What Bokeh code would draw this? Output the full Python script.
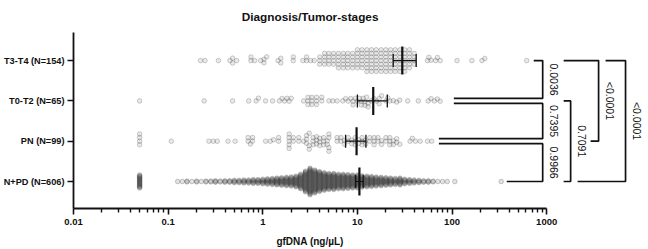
import math
from bokeh.plotting import figure
from bokeh.layouts import column
from bokeh.models import Range1d, FixedTicker, CustomJSTickFormatter, Label
from bokeh.embed import file_html
from bokeh.resources import INLINE
from bokeh.core.properties import value

# ---------------- data ----------------
categories = ["N+PD (N=606)", "PN (N=99)", "T0-T2 (N=65)", "T3-T4 (N=154)"]
title_text = "Diagnosis/Tumor-stages"
x_label = "gfDNA (ng/\u00b5L)"
x_ticks = [0.01, 0.1, 1, 10, 100, 1000]

t34_vals = [0.22, 0.245, 0.34, 0.45, 0.48, 0.53, 0.75, 0.82, 0.95, 1.03, 1.1, 1.45, 1.55,
            2.1, 2.65, 2.9, 3.2, 3.5,
            4.0, 4.5, 5.0, 5.6, 6.3, 7.1, 7.9, 8.9, 10.0, 11.2, 12.6, 14.1, 15.8, 17.8,
            20.0, 22.4, 25.1, 28.2, 31.6, 35.5, 39.8,
            55, 57, 60, 67, 70, 75, 113, 162, 207, 222, 615]
t34_counts = [1, 1, 1, 1, 2, 1, 2, 1, 1, 2, 1, 1, 2,
              2, 1, 2, 1, 1,
              3, 4, 4, 4, 5, 5, 5, 5, 6, 6, 7, 7, 7, 7,
              7, 7, 7, 7, 7, 6, 4,
              1, 1, 1, 1, 1, 1, 1, 1, 1, 1, 1]

t02_vals = [0.05, 0.24, 0.48, 0.71, 0.85, 0.9, 1.07, 1.27, 1.5, 1.6, 1.7, 1.8, 1.9, 2.0, 2.7,
            3.0, 3.3, 3.7, 4.2, 5.0, 5.5, 6.1, 7.0, 7.5, 8.0, 8.5, 9.0,
            9.5, 10, 10.5, 11, 11.5, 12, 12.5, 13, 14, 15, 16, 17,
            18, 20, 21, 22, 24, 26, 28, 34, 44, 56, 60, 65, 70, 75]
t02_counts = [1, 1, 1, 1, 1, 1, 1, 1, 1, 1, 1, 1, 1, 1, 1,
              3, 3, 3, 2, 1, 1, 1, 1, 1, 1, 1, 2,
              1, 1, 1, 2, 1, 2, 1, 2, 1, 1, 1, 2,
              1, 1, 1, 1, 1, 1, 1, 1, 1, 1, 1, 1, 1, 1]

pn_vals = [0.05, 0.108, 0.27, 0.3, 0.33, 0.43, 0.51, 0.70, 0.74, 0.78, 1.07, 1.2, 1.3, 1.47, 1.9,
           2.1, 2.4, 2.7, 2.9, 3.1, 3.4, 3.7, 4.0, 4.4, 4.8, 5.0, 6.1, 6.7, 7.3,
           8.0, 8.7, 9.5, 10.3, 11.2, 12.2, 13.5, 15, 16.5,
           18, 20, 22, 24, 26, 28, 36, 38, 41, 46, 55, 61]
pn_counts = [4, 1, 1, 1, 1, 1, 1, 2, 1, 2, 1, 1, 1, 2, 5,
             2, 2, 1, 3, 3, 3, 3, 3, 3, 2, 4, 2, 2, 2,
             2, 2, 3, 2, 3, 2, 2, 3, 2,
             2, 2, 3, 2, 2, 1, 1, 1, 1, 1, 1, 1]

nppd_vals = [0.05, 0.126, 0.141, 0.158, 0.178, 0.2, 0.224, 0.251, 0.282, 0.316, 0.355,
             0.398, 0.447, 0.501, 0.562, 0.631, 0.708, 0.794, 0.891,
             1.0, 1.12, 1.26, 1.41, 1.58, 1.78, 2.0, 2.24,
             2.51, 2.82, 3.16, 3.55, 3.98, 4.47,
             5.01, 5.62, 6.31, 7.08, 7.94, 8.91,
             10.0, 11.2, 12.6, 14.1, 15.8, 17.8,
             20.0, 22.4, 25.1, 28.2, 31.6, 35.5,
             39.8, 44.7, 50.1, 56.2,
             63.1, 70.8, 79.4, 89.1, 107, 331]
nppd_counts = [18, 1, 1, 2, 1, 2, 1, 2, 2, 3, 2,
               3, 3, 4, 4, 5, 5, 6, 6,
               7, 8, 9, 10, 11, 12, 13, 15,
               20, 28, 36, 31, 27, 24,
               22, 22, 20, 20, 19, 18,
               18, 16, 15, 14, 13, 12,
               11, 10, 9, 10, 7, 6,
               5, 4, 3, 3,
               2, 1, 1, 1, 1, 1]

# summary line (centre) and error bar ends, per category in the order of `categories`
center_vals = [10.5, 9.8, 14.7, 29.8]
err_low = [9.6, 7.5, 10.0, 23.9]
err_high = [11.5, 12.3, 20.7, 41.8]

# multiple comparison results: (upper group, lower group, p value)
comp_upper = [3, 2, 1, 2, 3, 3]
comp_lower = [2, 1, 0, 0, 1, 0]
comp_p = ["0.0036", "0.7395", "0.9966", "0.7091", "<0.0001", "<0.0001"]

# ---------------- layout ----------------
W, H = 648, 249
LABEL_H = 17                      # strip under the main plot for the x-axis title
H_MAIN = H - LABEL_H
LEFT, RIGHT, TOP, BOTTOM = 72, 0, 0, H_MAIN - 208
frame_w = W - LEFT - RIGHT
frame_h = H_MAIN - TOP - BOTTOM
PPD = 94.8          # px per decade
PPU = 40.3          # px per category
x_start = x_ticks[0]
x_end = x_start * 10 ** (frame_w / PPD)
y_start = -27 / PPU
y_end = y_start + frame_h / PPU
frame_left_px = LEFT
frame_bottom_px = TOP + frame_h


def px2x(sx):
    return x_start * 10 ** ((sx - frame_left_px) / PPD)


def py2y(sy):
    return y_start + (frame_bottom_px - sy) / PPU


def dy(px):
    return px / PPU


FONT = "Liberation Sans"
x_range = Range1d(x_start, x_end)

p = figure(width=W, height=H_MAIN, x_axis_type="log", output_backend="svg",
           toolbar_location=None, title=None,
           x_range=x_range, y_range=Range1d(y_start, y_end),
           min_border_left=LEFT, min_border_right=RIGHT,
           min_border_top=TOP, min_border_bottom=BOTTOM)
p.outline_line_color = None
p.xgrid.visible = False
p.ygrid.visible = False
p.background_fill_color = "white"
p.border_fill_color = "white"


# ---------------- point layouts ----------------
def swarm(vals, counts, D):
    xs = []
    for v, c in zip(vals, counts):
        xs += [v] * c
    pxs = [math.log10(v) * PPD for v in xs]
    order = sorted(range(len(xs)), key=lambda i: pxs[i])
    placed = []
    offs = [0.0] * len(xs)
    for i in order:
        x = pxs[i]
        near = [(x2, o2, math.sqrt(D * D - (x2 - x) ** 2)) for (x2, o2) in placed if abs(x2 - x) < D]
        cands = [0.0]
        for (x2, o2, d) in near:
            cands += [o2 + d, o2 - d]
        cands.sort(key=lambda o: (round(abs(o), 6), -o))
        for o in cands:
            if all(abs(o - o2) >= d - 1e-6 for (x2, o2, d) in near):
                offs[i] = o
                break
        placed.append((x, offs[i]))
    return xs, offs


def columns(vals, counts, S):
    xs, offs = [], []
    for v, c in zip(vals, counts):
        for j in range(c):
            xs.append(v)
            offs.append((j - (c - 1) / 2) * S)
    return xs, offs


groups = [columns(nppd_vals, nppd_counts, 0.76),
          swarm(pn_vals, pn_counts, 3.6),
          swarm(t02_vals, t02_counts, 3.6),
          swarm(t34_vals, t34_counts, 3.6)]
fill_a = [0.14, 0.11, 0.11, 0.11]
line_a = [0.36, 0.32, 0.32, 0.32]

for idx, (xs, offs) in enumerate(groups):
    ys = [idx + dy(o) for o in offs]
    p.scatter(xs, ys, size=4.6, marker="circle", fill_color="#333333", fill_alpha=fill_a[idx],
              line_color="#333333", line_alpha=line_a[idx], line_width=0.7)

# summary: centre line and error bars
for idx in range(len(categories)):
    p.segment(err_low[idx], idx, err_high[idx], idx, line_color="#111111", line_width=1.2)
    p.segment([err_low[idx], err_high[idx]], [idx - dy(6.5)] * 2,
              [err_low[idx], err_high[idx]], [idx + dy(6.5)] * 2,
              line_color="#111111", line_width=1.3)
    p.segment(center_vals[idx], idx - dy(14), center_vals[idx], idx + dy(14),
              line_color="#111111", line_width=2.2)

# ---------------- comparison brackets ----------------
# vertical x (px), left end of upper arm, left end of lower arm, arm offsets (px)
br_vert = [542, 542, 542, 570, 598, 625]
br_left_up = [533, 453, 438, 563, 563, 605]
br_left_lo = [453, 438, 506, 563, 590, 577]
br_off_up = [0, -2.5, -2.5, 0, 0, 0]
br_off_lo = [2.5, 2.5, 0, 0, 0, 0]

bxs, bys, tx, ty = [], [], [], []
for k in range(len(comp_p)):
    yu = comp_upper[k] + dy(br_off_up[k])
    yl = comp_lower[k] + dy(br_off_lo[k])
    xv = px2x(br_vert[k])
    bxs.append([px2x(br_left_up[k]), xv, xv, px2x(br_left_lo[k])])
    bys.append([yu, yu, yl, yl])
    tx.append(px2x(br_vert[k] + 11))
    ty.append((yu + yl) / 2)
p.multi_line(bxs, bys, line_color="#111111", line_width=1.7)
p.text(tx, ty, text=comp_p, angle=-math.pi / 2, text_align="center", text_baseline="middle",
       text_font=value(FONT), text_font_size="10.5px", text_color="#111111")

# ---------------- axes ----------------
xa = p.xaxis[0]
xa.ticker = FixedTicker(ticks=x_ticks,
                        minor_ticks=[k * 10 ** e for e in range(-2, 3) for k in range(2, 10)])
xa.formatter = CustomJSTickFormatter(
    code="return tick >= 1 ? Math.round(tick).toString() : Number(tick.toPrecision(1)).toString();")
xa.bounds = (x_ticks[0], x_ticks[-1])
xa.axis_line_width = 1.8
xa.axis_line_color = "#111111"
xa.major_tick_line_width = 1.6
xa.major_tick_line_color = "#111111"
xa.minor_tick_line_width = 1.4
xa.minor_tick_line_color = "#111111"
xa.major_tick_in = 0
xa.major_tick_out = 6
xa.minor_tick_in = 0
xa.minor_tick_out = 4
xa.major_label_standoff = 4
xa.major_label_text_font = FONT
xa.major_label_text_font_style = "bold"
xa.major_label_text_font_size = "9.5px"
xa.major_label_text_color = "#111111"

ya = p.yaxis[0]
ya.ticker = FixedTicker(ticks=list(range(len(categories))))
ya.major_label_overrides = {i: c for i, c in enumerate(categories)}
ya.bounds = (y_start, py2y(32))
ya.axis_line_width = 1.8
ya.axis_line_color = "#111111"
ya.major_tick_line_width = 1.6
ya.major_tick_line_color = "#111111"
ya.major_tick_in = 0
ya.major_tick_out = 6
ya.minor_tick_in = 0
ya.minor_tick_out = 0
ya.major_label_standoff = 3
ya.major_label_text_font = FONT
ya.major_label_text_font_style = "bold"
ya.major_label_text_font_size = "9.2px"
ya.major_label_text_color = "#111111"

mid_x = math.sqrt(x_ticks[0] * x_ticks[-1])
p.add_layout(Label(x=mid_x, y=py2y(16.2), text=title_text, text_align="center",
                   text_baseline="alphabetic", text_font=FONT, text_font_style="bold",
                   text_font_size="11.8px", text_color="#111111"))

# strip below the main plot carrying the x-axis title, sharing the x scale
q = figure(width=W, height=LABEL_H, x_axis_type="log", output_backend="svg",
           toolbar_location=None, title=None, x_range=x_range, y_range=Range1d(0, LABEL_H),
           min_border_left=LEFT, min_border_right=RIGHT, min_border_top=0, min_border_bottom=0,
           x_axis_location=None, y_axis_location=None)
q.outline_line_color = None
q.xgrid.visible = False
q.ygrid.visible = False
q.background_fill_color = "white"
q.border_fill_color = "white"
q.text([mid_x], [H - 240.5], text=[x_label], text_align="center", text_baseline="alphabetic",
       text_font=value(FONT), text_font_style="bold", text_font_size="10px", text_color="#111111")

layout = column(p, q, spacing=0)
open("out.html", "w").write(file_html(layout, INLINE))
